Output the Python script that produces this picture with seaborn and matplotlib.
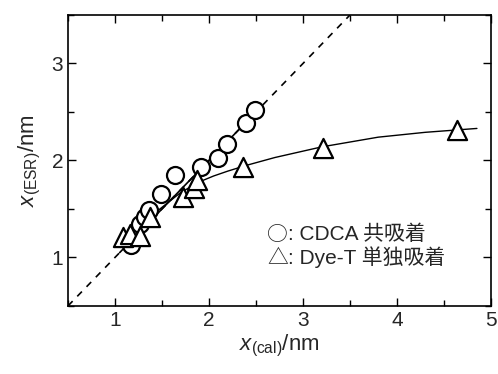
import matplotlib
matplotlib.use("Agg")
import matplotlib.pyplot as plt
import seaborn as sns
import numpy as np
import pandas as pd
from matplotlib.ticker import MultipleLocator

# CDCA co-adsorption (circles)
cdca_x = [1.17, 1.27, 1.32, 1.36, 1.49, 1.64, 1.92, 2.10, 2.19, 2.39, 2.49]
cdca_y = [1.13, 1.34, 1.42, 1.49, 1.65, 1.85, 1.93, 2.03, 2.17, 2.39, 2.52]
# Dye-T single adsorption (triangles)
dye_x = [1.08, 1.16, 1.27, 1.37, 1.72, 1.84, 1.87, 2.36, 3.21, 4.64]
dye_y = [1.21, 1.24, 1.22, 1.42, 1.62, 1.72, 1.80, 1.93, 2.13, 2.31]
# fitted curve for Dye-T
curve_x = [1.08, 1.4, 1.7, 1.9, 2.05, 2.2, 2.4, 2.7, 3.2, 3.8, 4.3, 4.85]
curve_y = [1.20, 1.44, 1.67, 1.78, 1.84, 1.89, 1.95, 2.03, 2.14, 2.24, 2.29, 2.33]
# y = x reference line
ref_x = [0.5, 3.5]
solid_x = [1.05, 2.5]

legend_symbols = ['○', '△']
legend_labels = [': CDCA 共吸着', ': Dye-T 単独吸着']

sns.set_theme(style="ticks")
plt.rcParams['font.family'] = ['Liberation Sans', 'Noto Sans CJK JP', 'DejaVu Sans']
plt.rcParams['mathtext.fontset'] = 'custom'
plt.rcParams['mathtext.rm'] = 'Liberation Sans'
plt.rcParams['mathtext.it'] = 'Liberation Sans:italic'

fig = plt.figure(figsize=(4.98, 3.74), dpi=100)
ax = fig.add_axes([0.1365, 0.182, 0.8495, 0.778])

sns.lineplot(x=ref_x, y=ref_x, ax=ax, color='black', lw=1.2, linestyle=(0, (4, 4)))
sns.lineplot(x=solid_x, y=solid_x, ax=ax, color='black', lw=1.2)
sns.lineplot(x=curve_x, y=curve_y, ax=ax, color='black', lw=1.0)

sns.scatterplot(x=cdca_x, y=cdca_y, ax=ax, marker='o', s=150, facecolor='white',
                edgecolor='black', linewidth=1.6, zorder=3)
sns.scatterplot(x=dye_x, y=dye_y, ax=ax, marker='^', s=190, facecolor='white',
                edgecolor='black', linewidth=1.6, zorder=4)

ax.set_xlim(0.5, 5)
ax.set_ylim(0.5, 3.5)
ax.xaxis.set_major_locator(MultipleLocator(1))
ax.xaxis.set_minor_locator(MultipleLocator(0.5))
ax.yaxis.set_major_locator(MultipleLocator(1))
ax.yaxis.set_minor_locator(MultipleLocator(0.5))
ax.tick_params(which='both', direction='in', top=True, right=True, labelsize=15, color='black')
ax.tick_params(which='major', length=6, width=1)
ax.tick_params(which='minor', length=4, width=1)
for s in ax.spines.values():
    s.set_color('black')
    s.set_linewidth(1.2)

ax.set_xlabel(r'$\it{x}_{\rm (cal)}$/nm', fontsize=16, labelpad=2)
ax.set_ylabel(r'$\it{x}_{\rm (ESR)}$/nm', fontsize=16, labelpad=6)

for i, (sym, lab) in enumerate(zip(legend_symbols, legend_labels)):
    yy = 1.235 - i * 0.235
    ax.text(2.62, yy, sym, fontsize=15, va='center', ha='left',
            family=['Noto Sans CJK JP', 'DejaVu Sans'])
    ax.text(2.845, yy, lab, fontsize=15, va='center', ha='left',
            family=['Liberation Sans', 'Noto Sans CJK JP'])

fig.savefig('out.png', dpi=100)
